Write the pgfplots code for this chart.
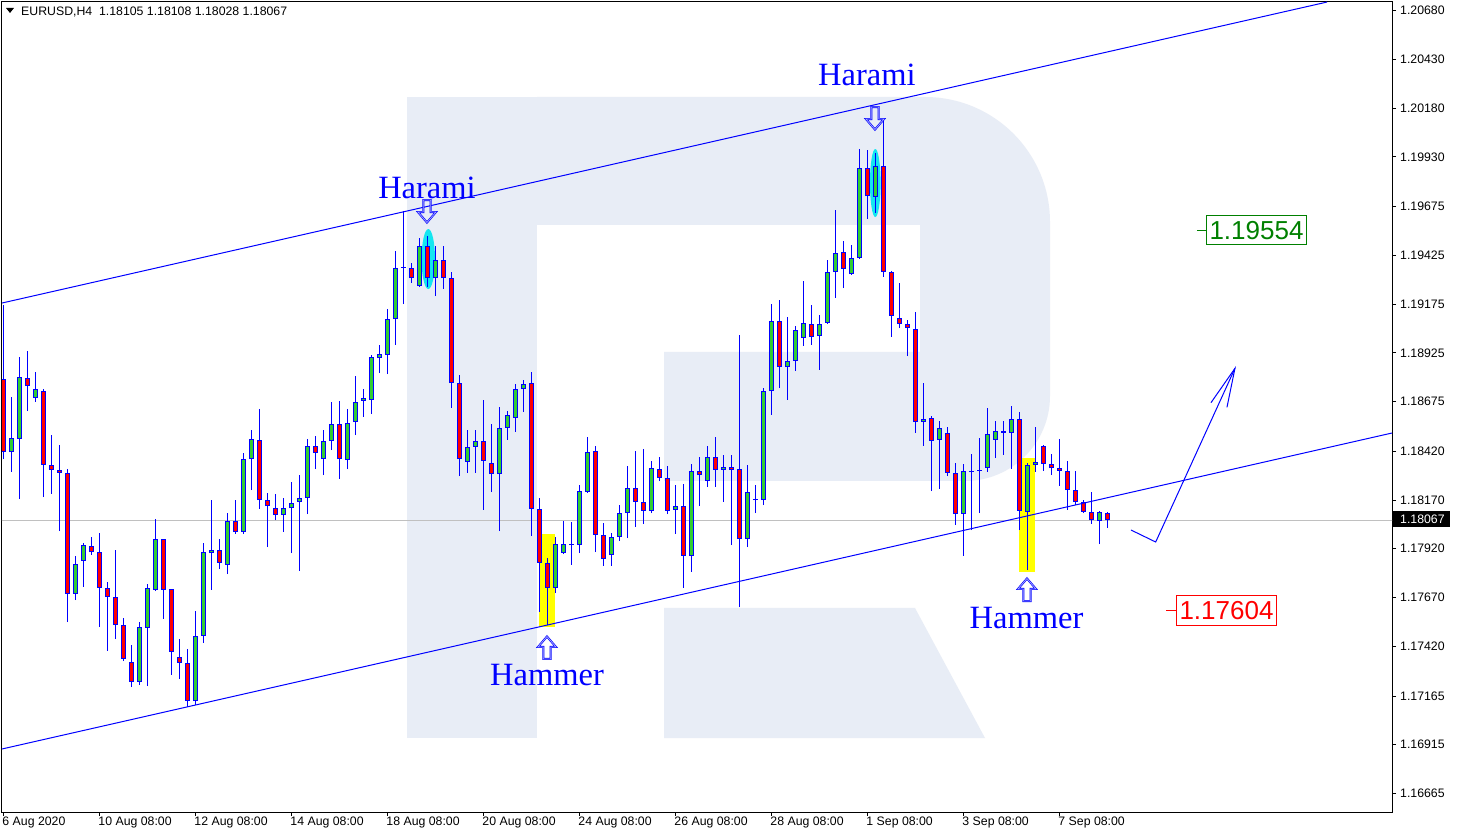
\documentclass[border=0pt]{standalone}
\usepackage{fontspec}
\setmainfont{Liberation Sans}
\newfontfamily\serifx{Liberation Serif}
\usepackage{pgfplots}
\pgfplotsset{compat=1.18}
\usepackage{pgfplotstable}
\definecolor{cgreen}{RGB}{50,205,50}
\definecolor{cred}{RGB}{255,0,0}
\definecolor{cblue}{RGB}{0,0,255}
\definecolor{logo}{RGB}{232,237,246}
\definecolor{ccyan}{RGB}{20,230,240}
\definecolor{cyel}{RGB}{255,255,0}
\definecolor{lvgreen}{RGB}{0,128,0}
\definecolor{pgray}{RGB}{192,192,192}
\definecolor{lav}{RGB}{170,170,255}

\pgfplotstableread{
i o h l c
0 1.18791 1.19170 1.18380 1.18416
1 1.18416 1.18698 1.18314 1.18488
2 1.18483 1.18903 1.18175 1.18801
3 1.18796 1.18934 1.18626 1.18755
4 1.18693 1.18826 1.18673 1.18739
5 1.18729 1.18739 1.18185 1.18350
6 1.18350 1.18503 1.18201 1.18324
7 1.18324 1.18452 1.18011 1.18309
8 1.18309 1.18329 1.17544 1.17688
9 1.17688 1.17883 1.17657 1.17842
10 1.17857 1.17950 1.17724 1.17939
11 1.17934 1.17980 1.17888 1.17903
12 1.17903 1.18001 1.17519 1.17719
13 1.17719 1.17750 1.17396 1.17673
14 1.17673 1.17914 1.17457 1.17529
15 1.17529 1.17565 1.17344 1.17355
16 1.17339 1.17426 1.17211 1.17237
17 1.17237 1.17544 1.17221 1.17519
18 1.17514 1.17739 1.17216 1.17719
19 1.17709 1.18073 1.17703 1.17970
20 1.17970 1.17970 1.17560 1.17709
21 1.17714 1.17714 1.17273 1.17391
22 1.17365 1.17457 1.17252 1.17334
23 1.17334 1.17406 1.17109 1.17139
24 1.17139 1.17601 1.17119 1.17473
25 1.17473 1.17950 1.17437 1.17903
26 1.17898 1.18170 1.17709 1.17914
27 1.17914 1.17970 1.17816 1.17847
28 1.17837 1.18103 1.17790 1.18062
29 1.18062 1.18170 1.17996 1.18006
30 1.18006 1.18411 1.17996 1.18380
31 1.18380 1.18529 1.18221 1.18483
32 1.18478 1.18637 1.18124 1.18170
33 1.18170 1.18206 1.17929 1.18139
34 1.18129 1.18201 1.18067 1.18093
35 1.18093 1.18180 1.18006 1.18129
36 1.18129 1.18262 1.17898 1.18155
37 1.18160 1.18298 1.17806 1.18180
38 1.18180 1.18483 1.18098 1.18447
39 1.18447 1.18498 1.18329 1.18411
40 1.18380 1.18529 1.18298 1.18473
41 1.18473 1.18673 1.18426 1.18560
42 1.18560 1.18678 1.18278 1.18380
43 1.18375 1.18637 1.18329 1.18565
44 1.18570 1.18806 1.18503 1.18673
45 1.18678 1.18739 1.18596 1.18693
46 1.18683 1.18914 1.18611 1.18903
47 1.18898 1.18965 1.18821 1.18919
48 1.18914 1.19149 1.18816 1.19098
49 1.19098 1.19447 1.18965 1.19360
50 1.19360 1.19652 1.19175 1.19362
51 1.19360 1.19385 1.19283 1.19308
52 1.19267 1.19514 1.19262 1.19473
53 1.19473 1.19524 1.19262 1.19308
54 1.19308 1.19473 1.19216 1.19401
55 1.19401 1.19473 1.19252 1.19308
56 1.19308 1.19339 1.18642 1.18770
57 1.18770 1.18811 1.18293 1.18380
58 1.18365 1.18529 1.18309 1.18442
59 1.18442 1.18529 1.18309 1.18473
60 1.18473 1.18683 1.18119 1.18370
61 1.18360 1.18560 1.18211 1.18303
62 1.18303 1.18647 1.18011 1.18539
63 1.18539 1.18626 1.18478 1.18606
64 1.18591 1.18765 1.18519 1.18739
65 1.18739 1.18785 1.18621 1.18765
66 1.18770 1.18826 1.17985 1.18124
67 1.18124 1.18180 1.17596 1.17847
68 1.17847 1.17873 1.17529 1.17719
69 1.17719 1.17980 1.17693 1.17944
70 1.17898 1.18062 1.17893 1.17944
71 1.17939 1.18057 1.17837 1.17944
72 1.17939 1.18247 1.17898 1.18216
73 1.18211 1.18493 1.18206 1.18416
74 1.18421 1.18447 1.17903 1.17991
75 1.17991 1.18052 1.17832 1.17867
76 1.17888 1.18001 1.17832 1.17980
77 1.17980 1.18144 1.17960 1.18103
78 1.18103 1.18344 1.17975 1.18232
79 1.18232 1.18421 1.18032 1.18160
80 1.18160 1.18432 1.18047 1.18114
81 1.18114 1.18370 1.18103 1.18334
82 1.18329 1.18391 1.18267 1.18283
83 1.18283 1.18344 1.18098 1.18114
84 1.18119 1.18247 1.17996 1.18139
85 1.18139 1.18252 1.17719 1.17883
86 1.17883 1.18355 1.17801 1.18319
87 1.18319 1.18391 1.18139 1.18298
88 1.18267 1.18447 1.18237 1.18391
89 1.18391 1.18493 1.18237 1.18324
90 1.18324 1.18401 1.18160 1.18339
91 1.18339 1.18401 1.17939 1.18324
92 1.18329 1.19016 1.17621 1.17970
93 1.17970 1.18350 1.17929 1.18211
94 1.18170 1.18247 1.18103 1.18175
95 1.18170 1.18744 1.18144 1.18729
96 1.18729 1.19175 1.18606 1.19088
97 1.19088 1.19196 1.18744 1.18852
98 1.18852 1.19108 1.18683 1.18883
99 1.18883 1.19062 1.18832 1.19042
100 1.19001 1.19293 1.18960 1.19078
101 1.19073 1.19170 1.18965 1.19006
102 1.19011 1.19119 1.18837 1.19073
103 1.19078 1.19401 1.19073 1.19339
104 1.19339 1.19657 1.19206 1.19437
105 1.19442 1.19498 1.19257 1.19355
106 1.19329 1.19478 1.19324 1.19411
107 1.19411 1.19970 1.19406 1.19873
108 1.19873 1.19965 1.19611 1.19729
109 1.19724 1.19949 1.19642 1.19883
110 1.19883 1.20114 1.19314 1.19339
111 1.19339 1.19344 1.19006 1.19114
112 1.19103 1.19283 1.19052 1.19073
113 1.19073 1.19093 1.18908 1.19052
114 1.19047 1.19134 1.18514 1.18570
115 1.18570 1.18770 1.18447 1.18585
116 1.18591 1.18601 1.18216 1.18473
117 1.18478 1.18575 1.18226 1.18539
118 1.18514 1.18544 1.18293 1.18309
119 1.18309 1.18360 1.18042 1.18098
120 1.18098 1.18355 1.17883 1.18319
121 1.18314 1.18406 1.18016 1.18319
122 1.18319 1.18488 1.18103 1.18324
123 1.18334 1.18642 1.18314 1.18508
124 1.18478 1.18575 1.18385 1.18524
125 1.18524 1.18575 1.18401 1.18514
126 1.18514 1.18652 1.18329 1.18585
127 1.18585 1.18621 1.18016 1.18114
128 1.18109 1.18360 1.17811 1.18350
129 1.18350 1.18544 1.18314 1.18365
130 1.18447 1.18452 1.18319 1.18355
131 1.18355 1.18406 1.18298 1.18334
132 1.18334 1.18483 1.18242 1.18319
133 1.18319 1.18370 1.18119 1.18221
134 1.18221 1.18319 1.18144 1.18160
135 1.18160 1.18170 1.18103 1.18109
136 1.18109 1.18211 1.18047 1.18067
137 1.18062 1.18114 1.17944 1.18109
138 1.18105 1.18108 1.18028 1.18067
}\candles

\newcommand{\dnarrow}[1]{%
  \draw[cblue, line width=2pt, line join=miter, shift={(axis cs:#1)}] (-3.7pt,11pt) -- (3.7pt,11pt) -- (3.7pt,-1pt) -- (9pt,-1pt) -- (0pt,-11.5pt) -- (-9pt,-1pt) -- (-3.7pt,-1pt) -- cycle;
  \draw[lav, line width=0.7pt, line join=miter, shift={(axis cs:#1)}] (-3.7pt,11pt) -- (3.7pt,11pt) -- (3.7pt,-1pt) -- (9pt,-1pt) -- (0pt,-11.5pt) -- (-9pt,-1pt) -- (-3.7pt,-1pt) -- cycle;}
\newcommand{\uparrowx}[1]{%
  \draw[cblue, line width=2pt, line join=miter, shift={(axis cs:#1)}] (-3.7pt,-11pt) -- (3.7pt,-11pt) -- (3.7pt,1pt) -- (9pt,1pt) -- (0pt,11.5pt) -- (-9pt,1pt) -- (-3.7pt,1pt) -- cycle;
  \draw[lav, line width=0.7pt, line join=miter, shift={(axis cs:#1)}] (-3.7pt,-11pt) -- (3.7pt,-11pt) -- (3.7pt,1pt) -- (9pt,1pt) -- (0pt,11.5pt) -- (-9pt,1pt) -- (-3.7pt,1pt) -- cycle;}

\pgfplotsset{candle/.style={draw=none, mark=none, forget plot,
  error bars/y dir=plus, error bars/y explicit, error bars/error mark=none}}

\begin{document}
\begin{tikzpicture}[x=1pt,y=1pt]
\useasboundingbox (0,0) rectangle (1457,836);
\fill[white] (0,0) rectangle (1457,836);
% background logo
\fill[logo] (407,739) rectangle (537,98);
\fill[logo] (537,739) -- (925,739) arc[start angle=90,end angle=0,radius=125pt] -- (1050,440) arc[start angle=0,end angle=-90,radius=85pt] -- (664,355) -- (664,484) -- (920,484) -- (920,611) -- (537,611) -- cycle;
\fill[logo] (664,228) -- (915,228) -- (985,98) -- (664,98) -- cycle;

\begin{axis}[
  at={(2pt,24pt)}, anchor=south west,
  scale only axis, width=1390pt, height=810pt,
  xmin=-0.1625, xmax=173.59, ymin=1.16570, ymax=1.20724,
  axis line style={black, line width=1pt},
  tick style={black, line width=0.8pt},
  major tick length=4pt, tick align=outside,
  xtick pos=left, ytick pos=right, yticklabel pos=right,
  xtick={0,12,24,36,48,60,72,84,96,108,120,132},
  xticklabels={6 Aug 2020,10 Aug 08:00,12 Aug 08:00,14 Aug 08:00,18 Aug 08:00,20 Aug 08:00,24 Aug 08:00,26 Aug 08:00,28 Aug 08:00,1 Sep 08:00,3 Sep 08:00,7 Sep 08:00},
  ytick={1.16665,1.16915,1.17165,1.17420,1.17670,1.17920,1.18170,1.18420,1.18675,1.18925,1.19175,1.19425,1.19675,1.19930,1.20180,1.20430,1.20680},
  yticklabels={1.16665,1.16915,1.17165,1.17420,1.17670,1.17920,1.18170,1.18420,1.18675,1.18925,1.19175,1.19425,1.19675,1.19930,1.20180,1.20430,1.20680},
  ticklabel style={font=\fontsize{12.3}{14}\selectfont, inner sep=0pt},
  xticklabel style={anchor=north west, xshift=-1pt, yshift=-1pt},
  yticklabel style={anchor=west, xshift=4pt},
]
% current price line
\draw[pgray, line width=1pt] (axis cs:-1,1.18067) -- (axis cs:175,1.18067);
% highlights
\fill[cyel] (axis cs:67,1.17996) rectangle (axis cs:69,1.175187);
\fill[cyel] (axis cs:127,1.18385) rectangle (axis cs:129,1.17801);
\fill[ccyan] (axis cs:53.125,1.194058) ellipse [x radius=6.7pt, y radius=30pt];
\fill[ccyan] (axis cs:109,1.197956) ellipse [x radius=5.3pt, y radius=34pt];
% wicks
\addplot[candle, error bars/error bar style={draw=cblue, line width=1pt}]
  table[x=i, y=l, y error plus expr={\thisrow{h}-\thisrow{l}}] {\candles};
% bodies up
\addplot[candle, restrict expr to domain={\thisrow{c}-\thisrow{o}}{0:1},
  error bars/error bar style={draw=cblue, line width=5pt}]
  table[x=i, y=o, y error plus expr={max(\thisrow{c}-\thisrow{o},0.0000513)}] {\candles};
\addplot[candle, restrict expr to domain={\thisrow{c}-\thisrow{o}}{0:1},
  error bars/error bar style={draw=cgreen, line width=3pt}]
  table[x=i, y expr={\thisrow{o}+0.0000513}, y error plus expr={max(\thisrow{c}-\thisrow{o}-0.0001026,0)}] {\candles};
% bodies down
\addplot[candle, restrict expr to domain={\thisrow{c}-\thisrow{o}}{-1:0},
  error bars/error bar style={draw=cblue, line width=5pt}]
  table[x=i, y=c, y error plus expr={max(\thisrow{o}-\thisrow{c},0.0000513)}] {\candles};
\addplot[candle, restrict expr to domain={\thisrow{c}-\thisrow{o}}{-1:0},
  error bars/error bar style={draw=cred, line width=3pt}]
  table[x=i, y expr={\thisrow{c}+0.0000513}, y error plus expr={max(\thisrow{o}-\thisrow{c}-0.0001026,0)}] {\candles};
% channel lines
\draw[cblue, line width=1pt] (axis cs:-0.1625,1.191802) -- (axis cs:165.46,1.207237);
\draw[cblue, line width=1pt] (axis cs:-0.1625,1.168931) -- (axis cs:173.59,1.185136);
% labels
\node[font=\serifx\fontsize{32.5}{36}\selectfont, text=cblue, anchor=base] at (axis cs:52.96,1.197187) {Harami};
\node[font=\serifx\fontsize{32.5}{36}\selectfont, text=cblue, anchor=base] at (axis cs:107.96,1.202981) {Harami};
\node[font=\serifx\fontsize{32.5}{36}\selectfont, text=cblue, anchor=base] at (axis cs:67.96,1.172162) {Hammer};
\node[font=\serifx\fontsize{32.5}{36}\selectfont, text=cblue, anchor=base] at (axis cs:127.9,1.175136) {Hammer};
\dnarrow{52.96,1.19652}
\dnarrow{108.96,1.201289}
\uparrowx{67.96,1.174111}
\uparrowx{127.96,1.177085}
% projection arrow
\draw[cblue, line width=1pt] (axis cs:140.96,1.180162) -- (axis cs:144.05,1.179546) -- (axis cs:153.96,1.188453);
\draw[cblue, line width=1pt] (axis cs:150.96,1.186690) -- (axis cs:153.96,1.188453) -- (axis cs:152.96,1.186454);
% target levels
\draw[lvgreen, line width=1pt] (axis cs:149.21,1.19554) -- (axis cs:150.34,1.19554);
\node[draw=lvgreen, line width=1pt, text=lvgreen, anchor=west, font=\fontsize{26}{28}\selectfont, inner xsep=3pt, inner ysep=5.5pt, text height=18.6pt, text depth=0pt] at (axis cs:150.34,1.19554) {1.19554};
\draw[cred, line width=1pt] (axis cs:145.34,1.17604) -- (axis cs:146.59,1.17604);
\node[draw=cred, line width=1pt, text=cred, anchor=west, font=\fontsize{26}{28}\selectfont, inner xsep=3pt, inner ysep=5.5pt, text height=18.6pt, text depth=0pt] at (axis cs:146.59,1.17604) {1.17604};
\end{axis}
% title
\fill[black] (6,828) -- (14,828) -- (10,823) -- cycle;
\node[anchor=base west, inner sep=0pt, font=\fontsize{12.3}{14}\selectfont] at (21,820) {EURUSD,H4\ \ 1.18105 1.18108 1.18028 1.18067};
% current price box
\fill[black] (1393,309) rectangle (1450,325);
\node[anchor=west, inner sep=0pt, text=white, font=\fontsize{12.3}{14}\selectfont] at (1400,317) {1.18067};
\end{tikzpicture}
\end{document}
